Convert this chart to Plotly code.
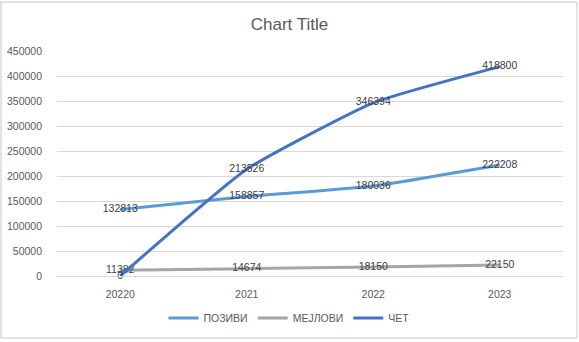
import plotly.graph_objects as go

categories = ["20220", "2021", "2022", "2023"]
pozivi = [132813, 158857, 180036, 222208]
mejlovi = [11382, 14674, 18150, 22150]
chet = [0, 213526, 346394, 418800]
y_ticks = [0, 50000, 100000, 150000, 200000, 250000, 300000, 350000, 400000, 450000]

series = [
    ("ПОЗИВИ", pozivi, "#5B9BD5"),
    ("МЕЈЛОВИ", mejlovi, "#A5A5A5"),
    ("ЧЕТ", chet, "#4472C4"),
]

W, H = 579, 342
L, R, T, B = 57, 16, 51, 66

fig = go.Figure()
for name, vals, color in series:
    fig.add_trace(go.Scatter(
        x=categories, y=vals, name=name, mode="lines+text",
        line=dict(color=color, width=3, shape="spline", smoothing=0.45),
        text=[str(v) for v in vals], textposition="middle center",
        textfont=dict(family="Liberation Sans", size=10.5, color="#404040"),
        cliponaxis=False,
    ))

fig.update_layout(
    width=W, height=H,
    margin=dict(l=L, r=R, t=T, b=B, autoexpand=False),
    paper_bgcolor="white", plot_bgcolor="white",
    font=dict(family="Liberation Sans", size=10.5, color="#595959"),
    title=dict(text="Chart Title", x=0.5, xref="container", xanchor="center",
               y=1 - 24 / H, yref="container", yanchor="middle",
               font=dict(family="Liberation Sans", size=17, color="#595959")),
    showlegend=True,
    legend=dict(orientation="h", x=(289 - L) / (W - L - R), xanchor="center",
                y=(276 - 318) / (H - T - B), yanchor="middle",
                font=dict(size=10.5, color="#595959"), itemwidth=30,
                traceorder="normal"),
    xaxis=dict(type="category", range=[-0.5, 3.5], showgrid=False, showline=True,
               linecolor="#D9D9D9", linewidth=1, ticks="", ticklabelstandoff=8,
               zeroline=False, automargin=False),
    yaxis=dict(range=[0, 450000], tickvals=y_ticks, ticktext=[str(v) for v in y_ticks],
               showgrid=True, gridcolor="#D9D9D9", gridwidth=1, showline=False,
               zeroline=False, ticks="", ticklabelstandoff=14, automargin=False),
)

# outer chart border
fig.add_shape(type="rect", xref="paper", yref="paper",
              x0=(1 - L) / (W - L - R), x1=(577 - L) / (W - L - R),
              y0=(H - B - 338) / (H - T - B), y1=(H - B - 2) / (H - T - B),
              line=dict(color="#D9D9D9", width=1.5), layer="below")

fig.write_html("out.html")
